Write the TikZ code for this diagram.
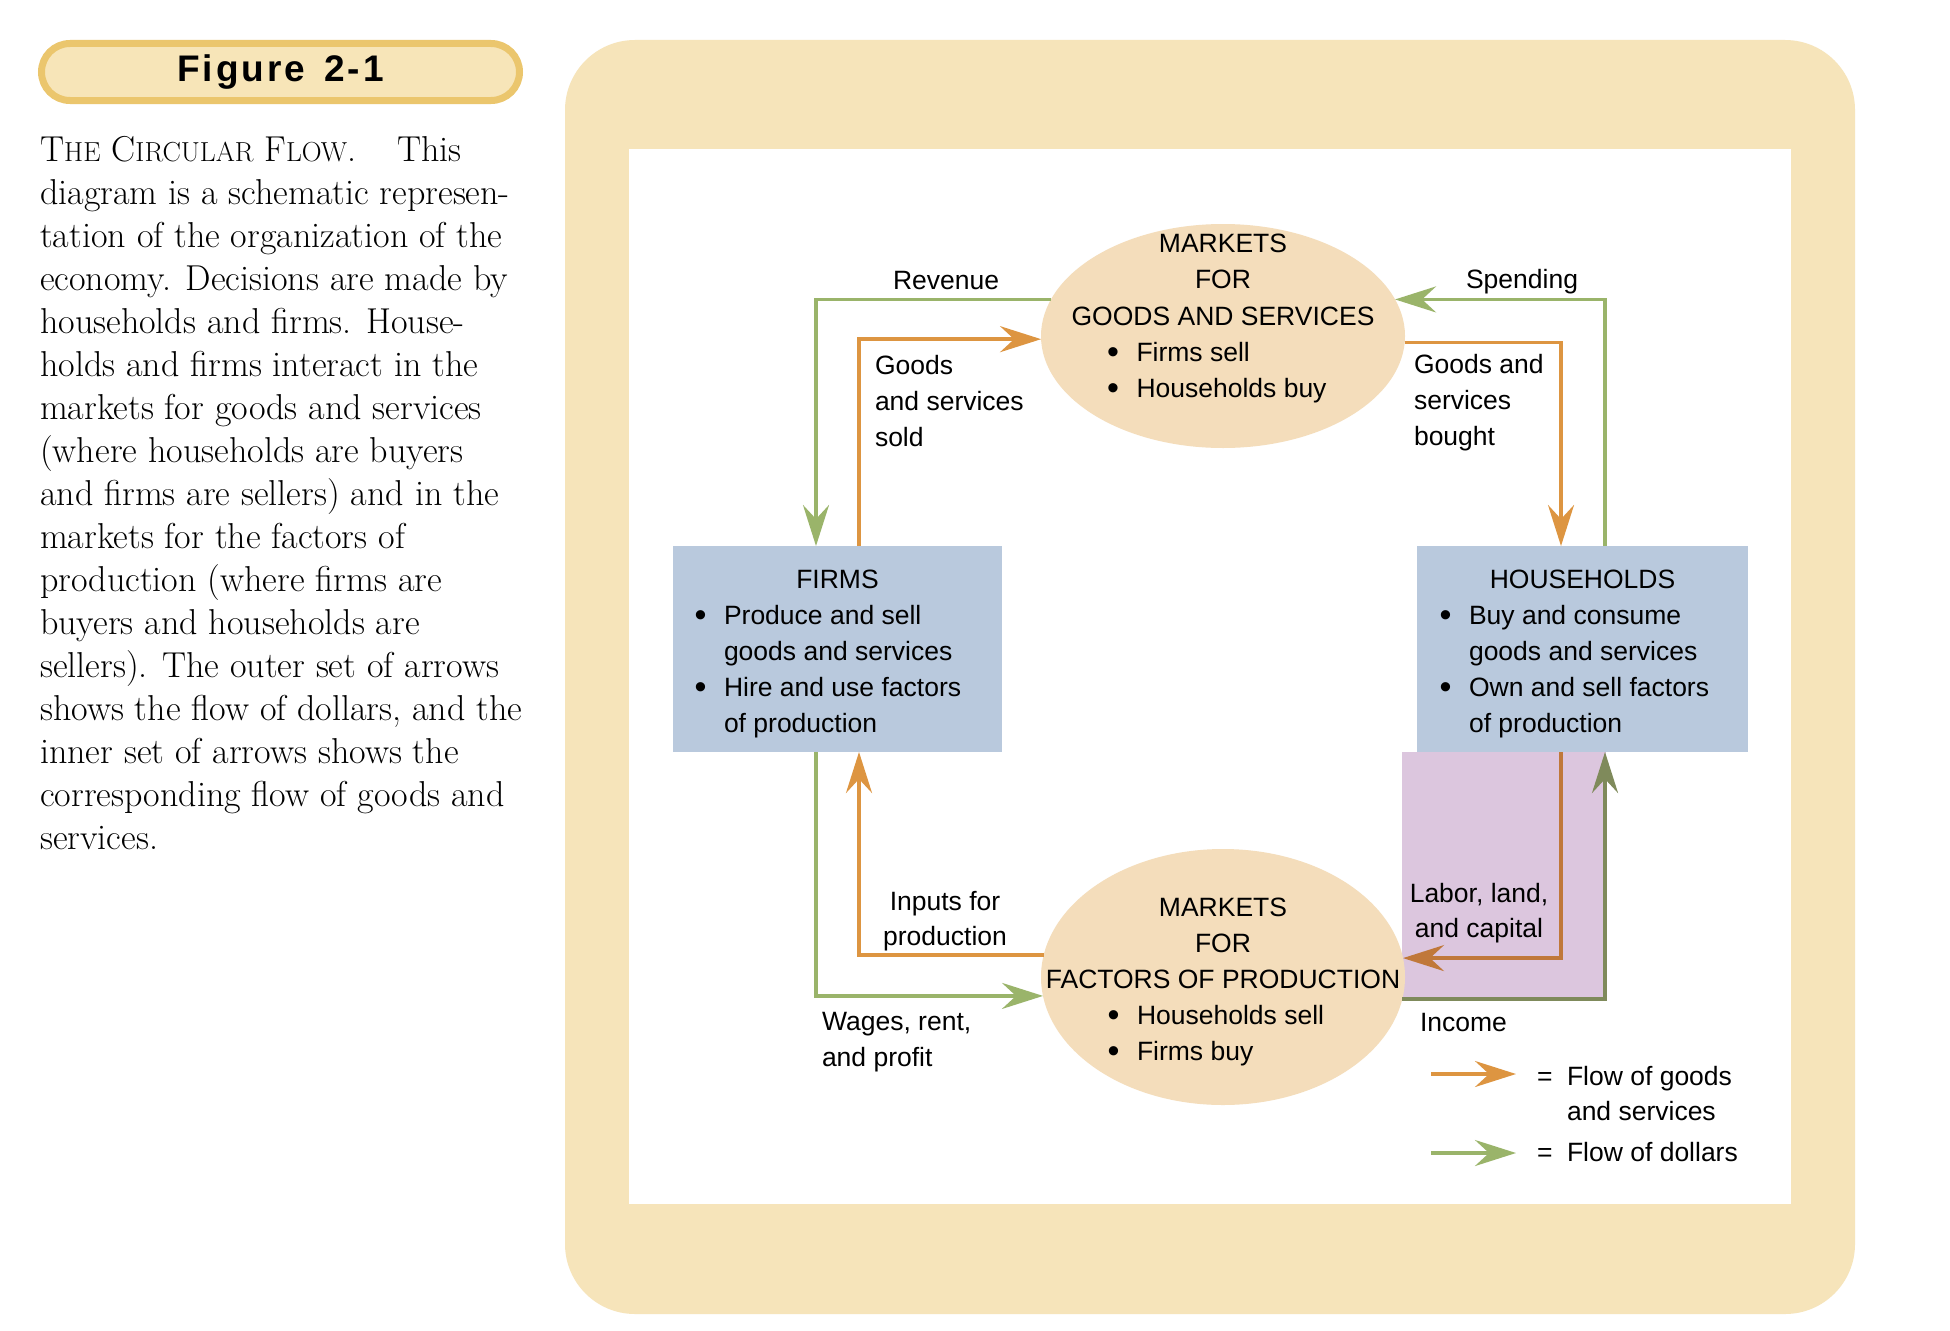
\documentclass[tikz,border=0pt]{standalone}
\usepackage{fontspec}
\newfontfamily\diag{Liberation Sans}
\newfontfamily\figfont{Liberation Sans}[LetterSpace=8]
\usetikzlibrary{arrows.meta,shapes.geometric}
\definecolor{tanbg}{HTML}{F6E4BA}
\definecolor{pillfill}{HTML}{F7E5B8}
\definecolor{pillborder}{HTML}{EBC66D}
\definecolor{peach}{HTML}{F4DDBB}
\definecolor{boxblue}{HTML}{B9C9DD}
\definecolor{purp}{HTML}{DCC6DE}
\definecolor{gorange}{HTML}{DD9541}
\definecolor{dgreen}{HTML}{9AB46A}
\definecolor{gorangedk}{HTML}{C0783A}
\definecolor{dgreendk}{HTML}{7F8A5B}
\newcommand\bulbox{\makebox[29.5pt][l]{\raisebox{-2.5pt}{\fontsize{34}{34}\selectfont•}}}
\newcommand\fsc[1]{{\fontsize{27.5}{43}\selectfont #1}}
\begin{document}
\begin{tikzpicture}[x=1pt,y=-1pt,
  lbl/.style={font=\diag\fontsize{26.5}{36}\selectfont, inner sep=0pt, outer sep=0pt, text=black},
  flowgoods/.style={draw=gorange, line width=3.5pt, -{Stealth[length=41pt,width=26pt,inset=14pt]}},
  flowdol/.style={draw=dgreen, line width=3.5pt, -{Stealth[length=41pt,width=26pt,inset=14pt]}},
  flowgoodsdk/.style={flowgoods, draw=gorangedk},
  flowdoldk/.style={flowdol, draw=dgreendk},
  market/.style={ellipse, fill=peach, minimum width=364pt, minimum height=224pt, inner sep=0pt, outer sep=0pt},
  agent/.style={rectangle, fill=boxblue, minimum height=206pt, inner sep=0pt, outer sep=0pt}]
\useasboundingbox (0,0) rectangle (1950,1330);
\fill[white] (0,0) rectangle (1950,1330);

% header pill
\node[draw=pillborder, fill=pillfill, line width=7pt, rounded corners=28.5pt,
      minimum width=478pt, minimum height=57pt, inner sep=0pt, outer sep=0pt,
      font=\figfont\bfseries\fontsize{37}{37}\selectfont] (fig) at (280.5,72) {Figure\hspace{6pt} 2-1};

% caption (anchored at the baseline of its last line)
\node[anchor=base west, align=left, inner sep=0pt, font=\fontsize{36}{43}\selectfont] (caption) at (40,849)
{T\fsc{HE} C\fsc{IRCULAR} F\fsc{LOW}.\hspace{41pt}This\\
diagram is a schematic represen-\\
tation of the organization of the\\
economy. Decisions are made by\\
households and firms. House-\\
holds and firms interact in the\\
markets for goods and services\\
(where households are buyers\\
and firms are sellers) and in the\\
markets for the factors of\\
production (where firms are\\
buyers and households are\\
sellers). The outer set of arrows\\
shows the flow of dollars, and the\\
inner set of arrows shows the\\
corresponding flow of goods and\\
services.};

% panel
\fill[tanbg, rounded corners=70pt] (565,40) rectangle (1855,1314);
\fill[white] (629,149) rectangle (1791,1204);

% purple area
\fill[purp] (1402,752) rectangle (1606,999);

% markets
\node[market] (mg) at (1223,336) {};
\node[market, minimum height=256pt] (mf) at (1223,977) {};

% agents
\node[agent, minimum width=329pt] (firms) at (837.5,649) {};
\node[agent, minimum width=331pt] (hh) at (1582.5,649) {};

% market texts
\node[lbl, anchor=base] (mg1) at (1223,252) {MARKETS};
\node[lbl, anchor=base] (mg2) at (1223,288.5) {FOR};
\node[lbl, anchor=base] (mg3) at (1223,325) {GOODS AND SERVICES};
\node[lbl, anchor=base west] (mg4) at (1107,361) {\bulbox Firms sell};
\node[lbl, anchor=base west] (mg5) at (1107,397) {\bulbox Households buy};

\node[lbl, anchor=base] (mf1) at (1223,916) {MARKETS};
\node[lbl, anchor=base] (mf2) at (1223,952) {FOR};
\node[lbl, anchor=base] (mf3) at (1223,988) {FACTORS OF PRODUCTION};
\node[lbl, anchor=base west] (mf4) at (1107.5,1024) {\bulbox Households sell};
\node[lbl, anchor=base west] (mf5) at (1107.5,1060) {\bulbox Firms buy};

% agent texts
\node[lbl, anchor=base] (fi1) at (837.5,588) {FIRMS};
\node[lbl, anchor=base west] (fi2) at (694.5,624) {\bulbox Produce and sell};
\node[lbl, anchor=base west] (fi3) at (724,660) {goods and services};
\node[lbl, anchor=base west] (fi4) at (694.5,696) {\bulbox Hire and use factors};
\node[lbl, anchor=base west] (fi5) at (724,732) {of production};

\node[lbl, anchor=base] (hh1) at (1582.5,588) {HOUSEHOLDS};
\node[lbl, anchor=base west] (hh2) at (1439.5,624) {\bulbox Buy and consume};
\node[lbl, anchor=base west] (hh3) at (1469,660) {goods and services};
\node[lbl, anchor=base west] (hh4) at (1439.5,696) {\bulbox Own and sell factors};
\node[lbl, anchor=base west] (hh5) at (1469,732) {of production};

% flows
\draw[flowdol] (mg.168.2) -| ([xshift=-21.5pt]firms.north);
\draw[flowgoods] ([xshift=21.5pt]firms.north) |- (mg.181.9);
\draw[flowdol] ([xshift=22.5pt]hh.north) |- (mg.12.15);
\draw[flowgoods] (mg.358.1) -| ([xshift=-21.5pt]hh.north);
\draw[flowgoodsdk] ([xshift=-21.5pt]hh.south) |- (mf.6.67);
\draw[flowdoldk] (mf.353.3) -| ([xshift=22.5pt]hh.south);
\draw[flowgoods] (mf.173.3) -| ([xshift=21.5pt]firms.south);
\draw[flowdol] ([xshift=-21.5pt]firms.south) |- (mf.186.7);

% flow labels
\node[lbl, anchor=base west] (rev) at (893,289) {Revenue};
\node[lbl, anchor=base west] (gs1) at (875,374) {Goods};
\node[lbl, anchor=base west] (gs2) at (875,410) {and services};
\node[lbl, anchor=base west] (gs3) at (875,446) {sold};
\node[lbl, anchor=base west] (spd) at (1466,288) {Spending};
\node[lbl, anchor=base west] (gb1) at (1414,373) {Goods and};
\node[lbl, anchor=base west] (gb2) at (1414,409) {services};
\node[lbl, anchor=base west] (gb3) at (1414,445) {bought};
\node[lbl, anchor=base] (lab1) at (1479,902) {Labor, land,};
\node[lbl, anchor=base] (lab2) at (1479,937) {and capital};
\node[lbl, anchor=base west] (inc) at (1420,1031) {Income};
\node[lbl, anchor=base] (inp1) at (945,910) {Inputs for};
\node[lbl, anchor=base] (inp2) at (945,945) {production};
\node[lbl, anchor=base west] (wag1) at (822,1030) {Wages, rent,};
\node[lbl, anchor=base west] (wag2) at (822,1066) {and profit};

% legend
\coordinate (lga) at (1431,1074);
\coordinate (lgb) at (1516,1074);
\coordinate (lgc) at (1431,1153);
\coordinate (lgd) at (1516,1153);
\draw[flowgoods] (lga) -- (lgb);
\draw[flowdol] (lgc) -- (lgd);
\node[lbl, anchor=base west] (lg1) at (1537,1085) {\makebox[30pt][l]{=}Flow of goods};
\node[lbl, anchor=base west] (lg2) at (1567,1120) {and services};
\node[lbl, anchor=base west] (lg3) at (1537,1161) {\makebox[30pt][l]{=}Flow of dollars};
\end{tikzpicture}
\end{document}
